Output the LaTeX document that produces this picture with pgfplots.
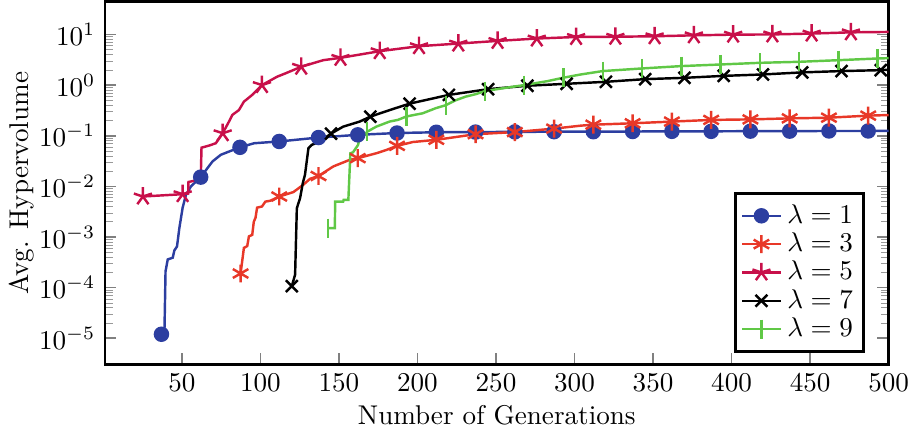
\documentclass[border=0pt]{standalone}
\usepackage{pgfplots}
\pgfplotsset{compat=1.18}
\definecolor{cblue}{RGB}{44,62,160}
\definecolor{cred}{RGB}{232,56,40}
\definecolor{ccrim}{RGB}{200,16,74}
\definecolor{cgreen}{RGB}{96,200,70}
\begin{document}
\begin{tikzpicture}
\begin{axis}[
  scale only axis,
  width=289pt, height=134pt,
  ymode=log,
  xmin=1, xmax=500,
  ymin=3e-6, ymax=45,
  xtick={50,100,...,500},
  ytick={1e-5,1e-4,1e-3,1e-2,1e-1,1,10},
  xtick pos=left,
  axis line style={line width=1pt},
  major tick style={gray, line width=0.6pt},
  minor tick style={gray!80},
  xlabel={Number of Generations},
  ylabel={Avg. Hypervolume},
  xlabel style={yshift=2pt, text depth=2.5pt},
  ylabel style={yshift=-5pt},
  legend style={at={(0.97,0.033)}, anchor=south east, draw=black, line width=1pt, font=\normalsize, row sep=-2pt, inner sep=2pt},
  legend cell align=left,
  legend image code/.code={\draw[mark repeat=2,mark phase=2] plot coordinates {(0cm,0cm) (0.25cm,0cm) (0.5cm,0cm)};},
  every axis plot/.append style={line width=0.9pt},
]
% lambda = 1
\addplot[cblue, no marks, forget plot] coordinates {
(37,1.2e-5) (38.9,1.3e-5) (39.6,2.1e-4) (41,3.6e-4) (44.2,3.9e-4) (45.2,5.4e-4) (46.9,6.5e-4)
(48.4,1.5e-3) (50.5,3.8e-3) (52.6,6.8e-3) (55.8,1e-2) (62,0.0152) (69.5,0.031) (74.8,0.042)
(81,0.05) (87,0.059) (96,0.071) (112,0.077) (137,0.092) (162,0.104) (187,0.113) (212,0.117)
(237,0.118) (262,0.119) (287,0.12) (312,0.12) (337,0.121) (362,0.122) (387,0.122) (412,0.123)
(437,0.123) (462,0.124) (487,0.124) (500,0.125)};
\addplot[cblue, only marks, mark=*, mark size=2.4pt, forget plot] coordinates {
(37,1.2e-5) (62,0.0152) (87,0.059) (112,0.077) (137,0.092) (162,0.104) (187,0.113) (212,0.117)
(237,0.118) (262,0.119) (287,0.12) (312,0.12) (337,0.121) (362,0.122) (387,0.122) (412,0.123)
(437,0.123) (462,0.124) (487,0.124)};
% lambda = 3
\addplot[cred, no marks, forget plot] coordinates {
(87.4,1.9e-4) (89.5,6.1e-4) (91.6,6.6e-4) (92.7,1.03e-3) (94.8,1.1e-3) (95.8,2.0e-3) (96.9,2.4e-3)
(97.9,3.8e-3) (101,4.0e-3) (103.2,5.0e-3) (106.4,5.2e-3) (112,6.3e-3) (121,7.7e-3) (127.4,0.0108)
(131.6,0.0141) (137,0.016) (146.4,0.0247) (156.9,0.0334) (162,0.036) (173.8,0.045) (180,0.052)
(187,0.063) (197,0.075) (212,0.083) (237,0.107) (262,0.118) (287,0.138) (304,0.158) (312,0.165)
(337,0.176) (362,0.19) (387,0.205) (412,0.21) (437,0.22) (462,0.227) (487,0.249) (500,0.256)};
\addplot[cred, only marks, mark=asterisk, mark size=3.3pt, forget plot] coordinates {
(87.4,1.9e-4) (112,6.3e-3) (137,0.016) (162,0.036) (187,0.063) (212,0.083) (237,0.107) (262,0.118)
(287,0.138) (312,0.165) (337,0.176) (362,0.19) (387,0.205) (412,0.21) (437,0.22) (462,0.227) (487,0.249)};
% lambda = 5
\addplot[ccrim, no marks, forget plot] coordinates {
(25.2,6.3e-3) (50.5,7.0e-3) (54,7.2e-3) (54.2,0.0122) (58,0.0129) (62,0.013) (62.5,0.058) (67.4,0.064)
(71.6,0.071) (76,0.112) (80,0.19) (82.1,0.257) (86.3,0.32) (89.5,0.47) (94.8,0.64) (101,1.0)
(110.6,1.46) (115.9,1.7) (126,2.3) (140,3.1) (151,3.45) (176,4.67) (201,5.86) (226,6.6) (251,7.45)
(276,8.3) (301,8.9) (326,9.0) (351,9.2) (376,9.6) (401,9.9) (426,10.0) (451,10.4) (476,11.0) (500,11.2)};
\addplot[ccrim, only marks, mark=star, mark size=3.5pt, forget plot] coordinates {
(25.2,6.3e-3) (50.5,7.0e-3) (76,0.112) (101,1.0) (126,2.3) (151,3.45) (176,4.67) (201,5.86) (226,6.6)
(251,7.45) (276,8.3) (301,8.9) (326,9.0) (351,9.2) (376,9.6) (401,9.9) (426,10.0) (451,10.4) (476,11.0)};
% lambda = 7
\addplot[black, no marks, forget plot] coordinates {
(120,1.07e-4) (122.1,1.8e-4) (123.2,3.7e-3) (125.3,5.9e-3) (127,0.0116) (128.4,0.017) (130.6,0.057)
(132.7,0.066) (138,0.077) (145,0.11) (152.7,0.151) (163.2,0.19) (170,0.238) (182.2,0.32) (195,0.43)
(220,0.64) (245,0.83) (270,0.97) (295,1.06) (320,1.16) (345,1.31) (370,1.39) (395,1.52) (420,1.62)
(445,1.78) (470,1.89) (495,1.97) (500,2.0)};
\addplot[black, only marks, mark=x, mark size=3.1pt, forget plot] coordinates {
(120,1.07e-4) (145,0.11) (170,0.238) (195,0.43) (220,0.64) (245,0.83) (270,0.97) (295,1.06) (320,1.16)
(345,1.31) (370,1.39) (395,1.52) (420,1.62) (445,1.78) (470,1.89) (495,1.97)};
% lambda = 9
\addplot[cgreen, no marks, forget plot] coordinates {
(143.2,1.5e-3) (147.4,1.5e-3) (147.6,5.0e-3) (152.7,5.0e-3) (153,5.4e-3) (156,5.4e-3) (157.3,0.045)
(159,0.047) (162.2,0.066) (163.2,0.089) (166.4,0.104) (168,0.12) (173.8,0.151) (182.2,0.19)
(187.5,0.205) (193,0.24) (203.3,0.277) (211.7,0.35) (218,0.40) (224.3,0.5) (230.6,0.59) (237,0.66)
(243,0.76) (253.8,0.86) (268,1.0) (283,1.2) (293,1.4) (304,1.62) (318,1.89) (343,2.13) (368,2.37)
(393,2.55) (418,2.75) (443,2.88) (468,3.1) (493,3.35) (500,3.4)};
\addplot[cgreen, only marks, mark=|, mark size=3.5pt, forget plot] coordinates {
(143.2,1.5e-3) (168,0.12) (193,0.24) (218,0.40) (243,0.76) (268,1.0) (293,1.4) (318,1.89) (343,2.13)
(368,2.37) (393,2.55) (418,2.75) (443,2.88) (468,3.1) (493,3.35)};
\addlegendimage{cblue, line width=0.9pt, mark=*, mark size=2.4pt}
\addlegendentry{$\lambda = 1$}
\addlegendimage{cred, line width=0.9pt, mark=asterisk, mark size=3.3pt}
\addlegendentry{$\lambda = 3$}
\addlegendimage{ccrim, line width=0.9pt, mark=star, mark size=3.5pt}
\addlegendentry{$\lambda = 5$}
\addlegendimage{black, line width=0.9pt, mark=x, mark size=3.1pt}
\addlegendentry{$\lambda = 7$}
\addlegendimage{cgreen, line width=0.9pt, mark=|, mark size=3.5pt}
\addlegendentry{$\lambda = 9$}
\end{axis}
\end{tikzpicture}
\end{document}
